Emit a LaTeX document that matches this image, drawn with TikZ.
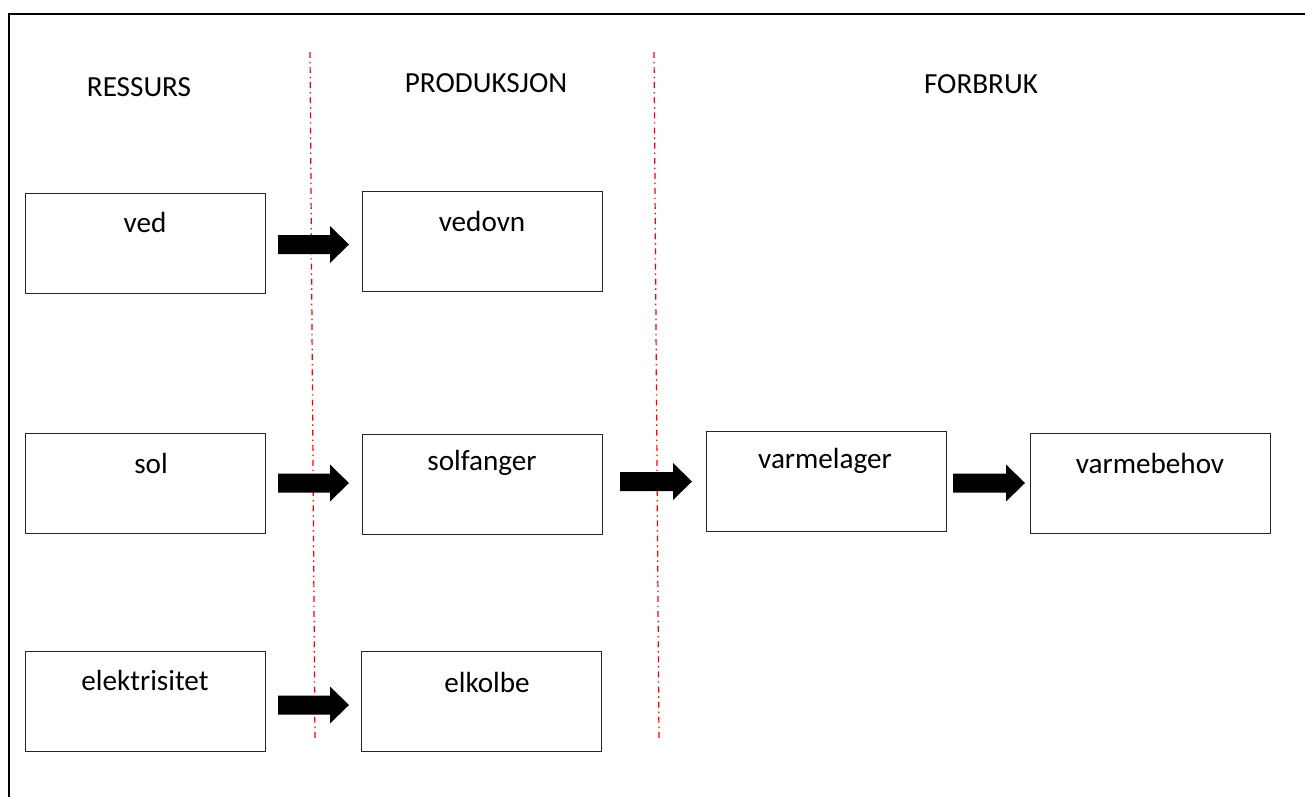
\documentclass[tikz,border=0pt]{standalone}
\usepackage{fontspec}
\setmainfont{Carlito}
\usetikzlibrary{calc}
\begin{document}
\begin{tikzpicture}[x=0.02cm,y=-0.02cm,
  box/.style={draw=black!85,line width=0.7pt,minimum width=4.8cm,minimum height=2cm,inner sep=0pt,anchor=north west},
  lbl/.style={font=\fontsize{16.6}{19}\selectfont,inner sep=0pt,anchor=center},
  sep/.style={draw=red,line width=0.7pt,dash pattern=on 3.4pt off 2.2pt on 0.8pt off 2.2pt},
  blockarrow/.style={fill=black}]
\useasboundingbox (0,0) rectangle (1305,796);
\begin{scope}
\clip (0,0) rectangle (1305,796);
\draw[line width=1.6pt] (9,820) -- (9,14) -- (1330,14);
\end{scope}
% headers
\node[lbl] (h1) at (139,87) {RESSURS};
\node[lbl] (h2) at (486,83) {PRODUKSJON};
\node[lbl] (h3) at (981,84) {FORBRUK};
% separators
\coordinate (s1t) at (310,52); \coordinate (s1b) at (315,740);
\coordinate (s2t) at (654,52); \coordinate (s2b) at (659,740);
\draw[sep] (s1t) -- (s1b);
\draw[sep] (s2t) -- (s2b);
% boxes
\node[box] (ved) at (25,193) {};
\node[box] (vedovn) at (362,191) {};
\node[box] (sol) at (25,433) {};
\node[box] (solf) at (362,434) {};
\node[box] (vlag) at (706,431) {};
\node[box] (vbeh) at (1030,433) {};
\node[box] (el) at (25,651) {};
\node[box] (elk) at (361,651) {};
% labels
\node[lbl] (tved) at (145,222) {ved};
\node[lbl] (tvedovn) at (482,221) {vedovn};
\node[lbl] (tsol) at (151,463) {sol};
\node[lbl] (tsolf) at (482,463) {solfanger};
\node[lbl] (tvlag) at (825,461) {varmelager};
\node[lbl] (tvbeh) at (1150,463) {varmebehov};
\node[lbl] (tel) at (145,680) {elektrisitet};
\node[lbl] (telk) at (487,682) {elkolbe};
% block arrows: start x, end x, y
\newcommand{\blkarrow}[3]{%
  \fill[blockarrow] (#1,#3-9.5) -- (#2-19,#3-9.5) -- (#2-19,#3-18.5) -- (#2,#3) -- (#2-19,#3+18.5) -- (#2-19,#3+9.5) -- (#1,#3+9.5) -- cycle;}
\blkarrow{278}{349}{244.5}
\blkarrow{278}{349}{483}
\blkarrow{278}{349}{705}
\blkarrow{620}{692}{481.5}
\blkarrow{953}{1025}{483}
\end{tikzpicture}
\end{document}
